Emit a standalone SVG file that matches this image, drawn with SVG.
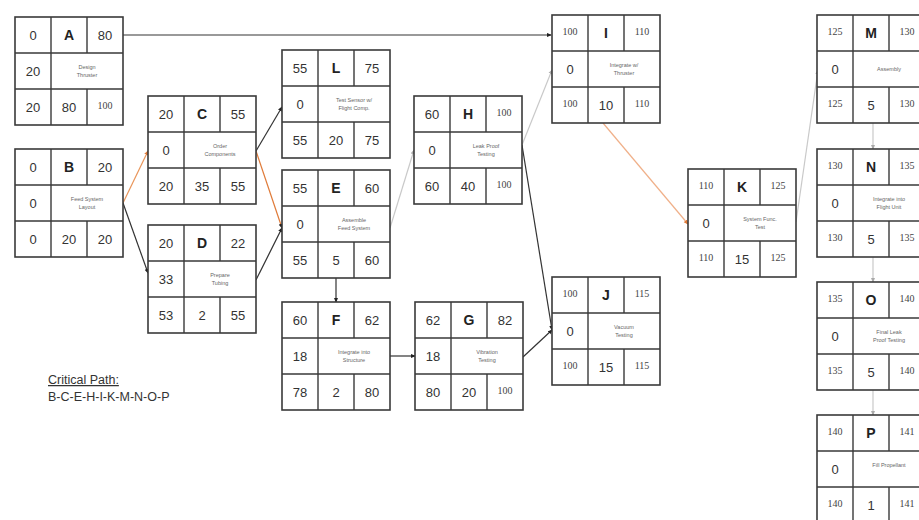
<svg xmlns="http://www.w3.org/2000/svg" width="919" height="520" viewBox="0 0 919 520">
<defs>
<style>
.bx{fill:#fff;stroke:#3a3a3a;stroke-width:1.6}
.ln{stroke:#3a3a3a;stroke-width:1.4;fill:none}
.n{font-family:"Liberation Sans",Arial,sans-serif;font-size:13px;fill:#333;text-anchor:middle}
.s{font-family:"Liberation Serif","Times New Roman",serif;font-size:10px;fill:#444;text-anchor:middle}
.l{font-family:"Liberation Sans",Arial,sans-serif;font-size:14px;font-weight:bold;fill:#222;text-anchor:middle}
.d{font-family:"Liberation Sans",Arial,sans-serif;font-size:5.5px;fill:#666;text-anchor:middle}
.c{fill:none;stroke-width:1.2}
.k{stroke:#333}
.o{stroke:#e9955a}
.g{stroke:#c9c9c9}
.cp{font-family:"Liberation Sans",Arial,sans-serif;font-size:12.5px;fill:#333}
</style>
<marker id="mk" viewBox="0 0 6 6" refX="5" refY="3" markerWidth="5" markerHeight="5" orient="auto" markerUnits="userSpaceOnUse"><path d="M0,0.5 L6,3 L0,5.5 z" fill="#222"/></marker>
<marker id="mo" viewBox="0 0 6 6" refX="5" refY="3" markerWidth="5" markerHeight="5" orient="auto" markerUnits="userSpaceOnUse"><path d="M0,0.5 L6,3 L0,5.5 z" fill="#e07b39"/></marker>
<marker id="mg" viewBox="0 0 6 6" refX="5" refY="3" markerWidth="5" markerHeight="5" orient="auto" markerUnits="userSpaceOnUse"><path d="M0,0.5 L6,3 L0,5.5 z" fill="#aaa"/></marker>
<g id="frame">
<rect class="bx" x="0" y="0" width="108" height="108"/>
<path class="ln" d="M36,0 V108 M72,0 V36 M72,72 V108 M0,36 H108 M0,72 H108"/>
</g>
</defs>
<rect width="919" height="520" fill="#fff"/>

<g id="connectors">
<path class="c" style="stroke:#999;stroke-width:1.8" d="M123,35 H551" marker-end="url(#mk)"/>
<path class="c o" d="M123,203 L148,151" marker-end="url(#mo)"/>
<path class="c k" d="M123,203 L148,273" marker-end="url(#mk)"/>
<path class="c k" d="M256,151 L282,107" marker-end="url(#mk)"/>
<path class="c o" style="stroke:#e07b39" d="M256,151 L282,228" marker-end="url(#mk)"/>
<path class="c k" d="M256,280 L282,228" marker-end="url(#mk)"/>
<path class="c k" d="M336,278 V302" marker-end="url(#mk)"/>
<path class="c k" d="M390,356 H415" marker-end="url(#mk)"/>
<path class="c g" d="M390,228 L414,150" marker-end="url(#mg)"/>
<path class="c g" d="M522,145 L552,70" marker-end="url(#mg)"/>
<path class="c k" d="M522,145 L552,330" marker-end="url(#mk)"/>
<path class="c k" d="M523,357 L552,330" marker-end="url(#mk)"/>
<path class="c o" style="stroke:#f0b089" d="M603,123 L688,224" marker-end="url(#mo)"/>
<path class="c g" d="M796,222 L818,70" marker-end="url(#mg)"/>
<path class="c g" d="M873,123 V149" marker-end="url(#mg)"/>
<path class="c g" d="M873,257 V282" marker-end="url(#mg)"/>
<path class="c g" d="M873,390 V415" marker-end="url(#mg)"/>
</g>

<g id="A" transform="translate(15,17)"><use href="#frame"/>
<text class="n" x="18" y="23">0</text><text class="l" x="54" y="23">A</text><text class="n" x="90" y="23">80</text>
<text class="n" x="18" y="59">20</text><text class="d" x="72" y="52">Design</text><text class="d" x="72" y="60">Thruster</text>
<text class="n" x="18" y="95">20</text><text class="n" x="54" y="95">80</text><text class="s" x="90" y="92">100</text></g>

<g id="B" transform="translate(15,149)"><use href="#frame"/>
<text class="n" x="18" y="23">0</text><text class="l" x="54" y="23">B</text><text class="n" x="90" y="23">20</text>
<text class="n" x="18" y="59">0</text><text class="d" x="72" y="52">Feed System</text><text class="d" x="72" y="60">Layout</text>
<text class="n" x="18" y="95">0</text><text class="n" x="54" y="95">20</text><text class="n" x="90" y="95">20</text></g>

<g id="C" transform="translate(148,96)"><use href="#frame"/>
<text class="n" x="18" y="23">20</text><text class="l" x="54" y="23">C</text><text class="n" x="90" y="23">55</text>
<text class="n" x="18" y="59">0</text><text class="d" x="72" y="52">Order</text><text class="d" x="72" y="60">Components</text>
<text class="n" x="18" y="95">20</text><text class="n" x="54" y="95">35</text><text class="n" x="90" y="95">55</text></g>

<g id="D" transform="translate(148,225)"><use href="#frame"/>
<text class="n" x="18" y="23">20</text><text class="l" x="54" y="23">D</text><text class="n" x="90" y="23">22</text>
<text class="n" x="18" y="59">33</text><text class="d" x="72" y="52">Prepare</text><text class="d" x="72" y="60">Tubing</text>
<text class="n" x="18" y="95">53</text><text class="n" x="54" y="95">2</text><text class="n" x="90" y="95">55</text></g>

<g id="L" transform="translate(282,50)"><use href="#frame"/>
<text class="n" x="18" y="23">55</text><text class="l" x="54" y="23">L</text><text class="n" x="90" y="23">75</text>
<text class="n" x="18" y="59">0</text><text class="d" x="72" y="52">Test Sensor w/</text><text class="d" x="72" y="60">Flight Comp.</text>
<text class="n" x="18" y="95">55</text><text class="n" x="54" y="95">20</text><text class="n" x="90" y="95">75</text></g>

<g id="E" transform="translate(282,170)"><use href="#frame"/>
<text class="n" x="18" y="23">55</text><text class="l" x="54" y="23">E</text><text class="n" x="90" y="23">60</text>
<text class="n" x="18" y="59">0</text><text class="d" x="72" y="52">Assemble</text><text class="d" x="72" y="60">Feed System</text>
<text class="n" x="18" y="95">55</text><text class="n" x="54" y="95">5</text><text class="n" x="90" y="95">60</text></g>

<g id="F" transform="translate(282,302)"><use href="#frame"/>
<text class="n" x="18" y="23">60</text><text class="l" x="54" y="23">F</text><text class="n" x="90" y="23">62</text>
<text class="n" x="18" y="59">18</text><text class="d" x="72" y="52">Integrate into</text><text class="d" x="72" y="60">Structure</text>
<text class="n" x="18" y="95">78</text><text class="n" x="54" y="95">2</text><text class="n" x="90" y="95">80</text></g>

<g id="G" transform="translate(415,302)"><use href="#frame"/>
<text class="n" x="18" y="23">62</text><text class="l" x="54" y="23">G</text><text class="n" x="90" y="23">82</text>
<text class="n" x="18" y="59">18</text><text class="d" x="72" y="52">Vibration</text><text class="d" x="72" y="60">Testing</text>
<text class="n" x="18" y="95">80</text><text class="n" x="54" y="95">20</text><text class="s" x="90" y="92">100</text></g>

<g id="H" transform="translate(414,96)"><use href="#frame"/>
<text class="n" x="18" y="23">60</text><text class="l" x="54" y="23">H</text><text class="s" x="90" y="20">100</text>
<text class="n" x="18" y="59">0</text><text class="d" x="72" y="52">Leak Proof</text><text class="d" x="72" y="60">Testing</text>
<text class="n" x="18" y="95">60</text><text class="n" x="54" y="95">40</text><text class="s" x="90" y="92">100</text></g>

<g id="I" transform="translate(552,15)"><use href="#frame"/>
<text class="s" x="18" y="20">100</text><text class="l" x="54" y="23">I</text><text class="s" x="90" y="20">110</text>
<text class="n" x="18" y="59">0</text><text class="d" x="72" y="52">Integrate w/</text><text class="d" x="72" y="60">Thruster</text>
<text class="s" x="18" y="92">100</text><text class="n" x="54" y="95">10</text><text class="s" x="90" y="92">110</text></g>

<g id="J" transform="translate(552,277)"><use href="#frame"/>
<text class="s" x="18" y="20">100</text><text class="l" x="54" y="23">J</text><text class="s" x="90" y="20">115</text>
<text class="n" x="18" y="59">0</text><text class="d" x="72" y="52">Vacuum</text><text class="d" x="72" y="60">Testing</text>
<text class="s" x="18" y="92">100</text><text class="n" x="54" y="95">15</text><text class="s" x="90" y="92">115</text></g>

<g id="K" transform="translate(688,169)"><use href="#frame"/>
<text class="s" x="18" y="20">110</text><text class="l" x="54" y="23">K</text><text class="s" x="90" y="20">125</text>
<text class="n" x="18" y="59">0</text><text class="d" x="72" y="52">System Func.</text><text class="d" x="72" y="60">Test</text>
<text class="s" x="18" y="92">110</text><text class="n" x="54" y="95">15</text><text class="s" x="90" y="92">125</text></g>

<g id="M" transform="translate(817,15)"><use href="#frame"/>
<text class="s" x="18" y="20">125</text><text class="l" x="54" y="23">M</text><text class="s" x="90" y="20">130</text>
<text class="n" x="18" y="59">0</text><text class="d" x="72" y="56">Assembly</text>
<text class="s" x="18" y="92">125</text><text class="n" x="54" y="95">5</text><text class="s" x="90" y="92">130</text></g>

<g id="N" transform="translate(817,149)"><use href="#frame"/>
<text class="s" x="18" y="20">130</text><text class="l" x="54" y="23">N</text><text class="s" x="90" y="20">135</text>
<text class="n" x="18" y="59">0</text><text class="d" x="72" y="52">Integrate into</text><text class="d" x="72" y="60">Flight Unit</text>
<text class="s" x="18" y="92">130</text><text class="n" x="54" y="95">5</text><text class="s" x="90" y="92">135</text></g>

<g id="O" transform="translate(817,282)"><use href="#frame"/>
<text class="s" x="18" y="20">135</text><text class="l" x="54" y="23">O</text><text class="s" x="90" y="20">140</text>
<text class="n" x="18" y="59">0</text><text class="d" x="72" y="52">Final Leak</text><text class="d" x="72" y="60">Proof Testing</text>
<text class="s" x="18" y="92">135</text><text class="n" x="54" y="95">5</text><text class="s" x="90" y="92">140</text></g>

<g id="P" transform="translate(817,415)"><use href="#frame"/>
<text class="s" x="18" y="20">140</text><text class="l" x="54" y="23">P</text><text class="s" x="90" y="20">141</text>
<text class="n" x="18" y="59">0</text><text class="d" x="72" y="52">Fill Propellant</text>
<text class="s" x="18" y="92">140</text><text class="n" x="54" y="95">1</text><text class="s" x="90" y="92">141</text></g>

<g id="critical-path">
<text class="cp" x="48" y="384" text-decoration="underline">Critical Path:</text>
<text class="cp" x="48" y="401">B-C-E-H-I-K-M-N-O-P</text>
</g>
</svg>
